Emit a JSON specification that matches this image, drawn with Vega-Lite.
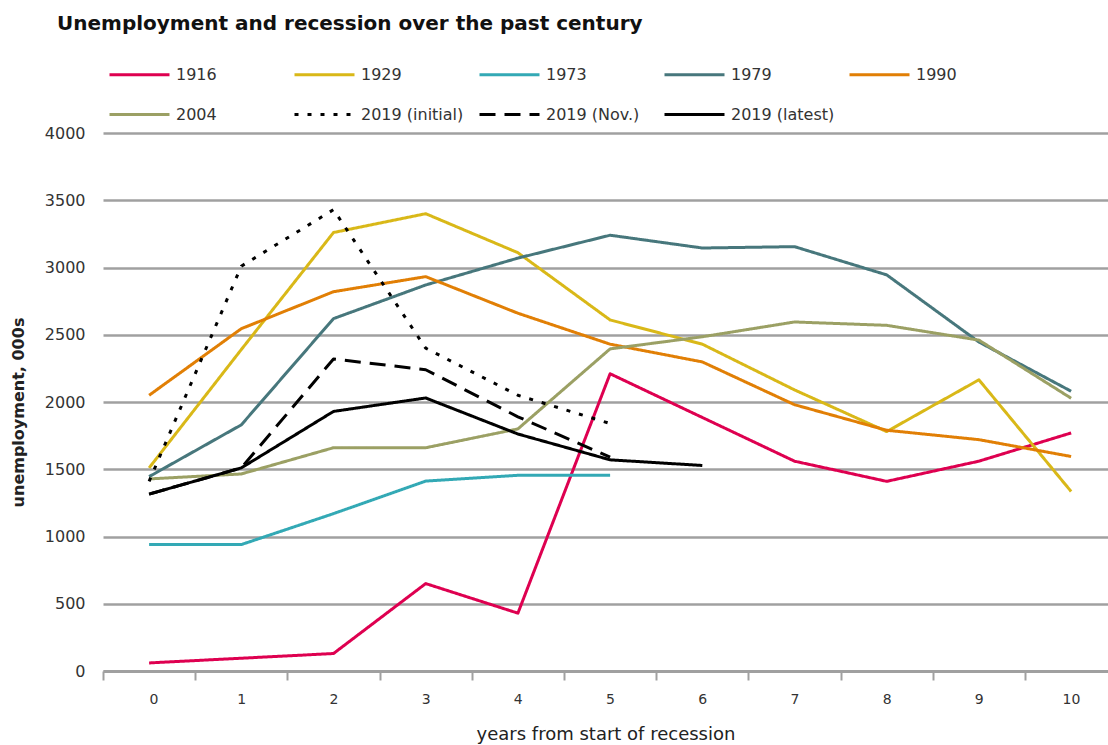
{
  "$schema": "https://vega.github.io/schema/vega-lite/v6.json",
  "autosize": {"type": "none"},
  "padding": {"left": 103, "top": 133, "right": 0, "bottom": 74},
  "width": 1005,
  "height": 538,
  "background": "white",
  "title": {
    "text": "Unemployment and recession over the past century",
    "anchor": "start",
    "frame": "group",
    "font": "DejaVu Sans",
    "fontSize": 20,
    "fontWeight": "bold",
    "color": "#111111",
    "dx": -46,
    "offset": 9
  },
  "config": {
    "view": {"stroke": null},
    "axis": {"labelFont": "DejaVu Sans", "titleFont": "DejaVu Sans"},
    "legend": {"labelFont": "DejaVu Sans"}
  },
  "data": {
    "values": [
      {"series": "1916", "year": 0, "value": 60},
      {"series": "1916", "year": 1, "value": 95},
      {"series": "1916", "year": 2, "value": 130},
      {"series": "1916", "year": 3, "value": 650},
      {"series": "1916", "year": 4, "value": 430},
      {"series": "1916", "year": 5, "value": 2210},
      {"series": "1916", "year": 6, "value": 1885},
      {"series": "1916", "year": 7, "value": 1560},
      {"series": "1916", "year": 8, "value": 1410},
      {"series": "1916", "year": 9, "value": 1560},
      {"series": "1916", "year": 10, "value": 1770},
      {"series": "1929", "year": 0, "value": 1510},
      {"series": "1929", "year": 1, "value": 2390},
      {"series": "1929", "year": 2, "value": 3260},
      {"series": "1929", "year": 3, "value": 3400},
      {"series": "1929", "year": 4, "value": 3110},
      {"series": "1929", "year": 5, "value": 2610},
      {"series": "1929", "year": 6, "value": 2430},
      {"series": "1929", "year": 7, "value": 2090},
      {"series": "1929", "year": 8, "value": 1780},
      {"series": "1929", "year": 9, "value": 2165},
      {"series": "1929", "year": 10, "value": 1335},
      {"series": "1973", "year": 0, "value": 940},
      {"series": "1973", "year": 1, "value": 940},
      {"series": "1973", "year": 2, "value": 1170},
      {"series": "1973", "year": 3, "value": 1412},
      {"series": "1973", "year": 4, "value": 1455},
      {"series": "1973", "year": 5, "value": 1455},
      {"series": "1979", "year": 0, "value": 1445},
      {"series": "1979", "year": 1, "value": 1830},
      {"series": "1979", "year": 2, "value": 2620},
      {"series": "1979", "year": 3, "value": 2870},
      {"series": "1979", "year": 4, "value": 3070},
      {"series": "1979", "year": 5, "value": 3240},
      {"series": "1979", "year": 6, "value": 3145},
      {"series": "1979", "year": 7, "value": 3155},
      {"series": "1979", "year": 8, "value": 2945},
      {"series": "1979", "year": 9, "value": 2446},
      {"series": "1979", "year": 10, "value": 2080},
      {"series": "1990", "year": 0, "value": 2050},
      {"series": "1990", "year": 1, "value": 2545},
      {"series": "1990", "year": 2, "value": 2820},
      {"series": "1990", "year": 3, "value": 2932},
      {"series": "1990", "year": 4, "value": 2660},
      {"series": "1990", "year": 5, "value": 2430},
      {"series": "1990", "year": 6, "value": 2298},
      {"series": "1990", "year": 7, "value": 1980},
      {"series": "1990", "year": 8, "value": 1790},
      {"series": "1990", "year": 9, "value": 1720},
      {"series": "1990", "year": 10, "value": 1595},
      {"series": "2004", "year": 0, "value": 1428},
      {"series": "2004", "year": 1, "value": 1465},
      {"series": "2004", "year": 2, "value": 1660},
      {"series": "2004", "year": 3, "value": 1660},
      {"series": "2004", "year": 4, "value": 1800},
      {"series": "2004", "year": 5, "value": 2395},
      {"series": "2004", "year": 6, "value": 2485},
      {"series": "2004", "year": 7, "value": 2595},
      {"series": "2004", "year": 8, "value": 2570},
      {"series": "2004", "year": 9, "value": 2460},
      {"series": "2004", "year": 10, "value": 2028},
      {"series": "2019 (initial)", "year": 0, "value": 1410},
      {"series": "2019 (initial)", "year": 1, "value": 3010},
      {"series": "2019 (initial)", "year": 2, "value": 3430},
      {"series": "2019 (initial)", "year": 3, "value": 2400},
      {"series": "2019 (initial)", "year": 4, "value": 2050},
      {"series": "2019 (initial)", "year": 5, "value": 1840},
      {"series": "2019 (Nov.)", "year": 0, "value": 1315},
      {"series": "2019 (Nov.)", "year": 1, "value": 1510},
      {"series": "2019 (Nov.)", "year": 2, "value": 2320},
      {"series": "2019 (Nov.)", "year": 3, "value": 2240},
      {"series": "2019 (Nov.)", "year": 4, "value": 1890},
      {"series": "2019 (Nov.)", "year": 5, "value": 1590},
      {"series": "2019 (latest)", "year": 0, "value": 1315},
      {"series": "2019 (latest)", "year": 1, "value": 1510},
      {"series": "2019 (latest)", "year": 2, "value": 1930},
      {"series": "2019 (latest)", "year": 3, "value": 2030},
      {"series": "2019 (latest)", "year": 4, "value": 1762},
      {"series": "2019 (latest)", "year": 5, "value": 1570},
      {"series": "2019 (latest)", "year": 6, "value": 1528}
    ]
  },
  "mark": {"type": "line", "strokeCap": "butt", "strokeJoin": "round"},
  "encoding": {
    "x": {
      "field": "year",
      "type": "quantitative",
      "scale": {"domain": [-0.5, 10.4], "nice": false, "zero": false},
      "axis": {
        "values": [-0.5, 0.5, 1.5, 2.5, 3.5, 4.5, 5.5, 6.5, 7.5, 8.5, 9.5],
        "labelExpr": "format(datum.value + 0.5, 'd')",
        "labelOffset": 46,
        "grid": false,
        "domainColor": "#a0a0a0",
        "domainWidth": 3,
        "tickColor": "#a0a0a0",
        "tickWidth": 2,
        "tickSize": 9,
        "labelFontSize": 14,
        "labelColor": "#333333",
        "labelPadding": 12,
        "title": "years from start of recession",
        "titleFontSize": 18,
        "titleFontWeight": "normal",
        "titleColor": "#222222",
        "titlePadding": 19
      }
    },
    "y": {
      "field": "value",
      "type": "quantitative",
      "scale": {"domain": [0, 4000], "nice": false},
      "axis": {
        "values": [0, 500, 1000, 1500, 2000, 2500, 3000, 3500, 4000],
        "format": "d",
        "domain": false,
        "ticks": false,
        "grid": true,
        "gridColor": "#a0a0a0",
        "gridWidth": 2.5,
        "labelFontSize": 16,
        "labelColor": "#333333",
        "labelPadding": 18,
        "title": "unemployment, 000s",
        "titleFontSize": 16,
        "titleFontWeight": "bold",
        "titleColor": "#222222",
        "titlePadding": 18,
        "titleY": 279
      }
    },
    "color": {
      "field": "series",
      "type": "nominal",
      "scale": {
        "domain": ["1916", "1929", "1973", "1979", "1990", "2004", "2019 (initial)", "2019 (Nov.)", "2019 (latest)"],
        "range": ["#de0050", "#d9b818", "#33a9b5", "#47777c", "#e17f05", "#9ba064", "#000000", "#000000", "#000000"]
      },
      "legend": {
        "orient": "none",
        "legendX": 5,
        "legendY": -90,
        "direction": "horizontal",
        "columns": 5,
        "gridAlign": "all",
        "columnPadding": 8,
        "rowPadding": -20,
        "symbolType": "stroke",
        "symbolSize": 3600,
        "labelOffset": 5,
        "labelFontSize": 16,
        "labelColor": "#333333",
        "title": null
      }
    },
    "strokeDash": {
      "field": "series",
      "type": "nominal",
      "scale": {
        "domain": ["1916", "1929", "1973", "1979", "1990", "2004", "2019 (initial)", "2019 (Nov.)", "2019 (latest)"],
        "range": [[1, 0], [1, 0], [1, 0], [1, 0], [1, 0], [1, 0], [4, 9], [16, 9], [1, 0]]
      },
      "legend": null
    },
    "strokeWidth": {
      "field": "series",
      "type": "nominal",
      "scale": {
        "domain": ["1916", "1929", "1973", "1979", "1990", "2004", "2019 (initial)", "2019 (Nov.)", "2019 (latest)"],
        "range": [3, 3, 3, 3, 3, 3, 3.5, 4.5, 5]
      },
      "legend": null
    },
    "order": {"field": "year", "type": "quantitative"}
  }
}
